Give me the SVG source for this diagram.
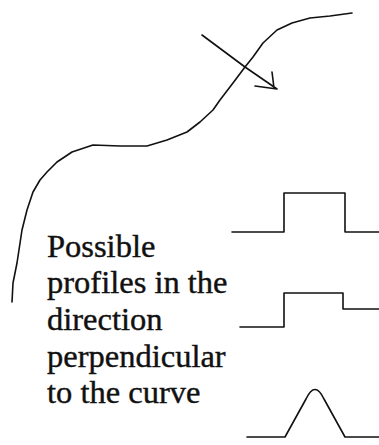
<svg xmlns="http://www.w3.org/2000/svg" width="379" height="445" viewBox="0 0 379 445">
<style>
.ln{fill:none;stroke:#111;stroke-width:1.6;stroke-linejoin:round;stroke-linecap:round}
.tx{font-family:"Liberation Serif","Times New Roman",serif;font-size:32.5px;fill:#111;stroke:#111;stroke-width:0.4}
</style>
<rect width="379" height="445" fill="#fff"/>
<g id="curve">
<polyline class="ln" points="352,13 330,16 310,18 292,23 277,30 263,43 253,57 245,67 233,83 220,100 213,110 200,122 187,132 167,140 147,146 120,146 93,145 72,152 57,162 47,172 40,180 33,192 27,210 22,230 17,263 13,283 12,302"/>
</g>
<g id="arrow">
<path class="ln" d="M202,35 L245,67 L277,89 M272,72 L274,88 M255,86 L277,89"/>
</g>
<g id="profile1">
<path class="ln" d="M232,232 H284 V193 H345 V232 H379"/>
</g>
<g id="profile2">
<path class="ln" d="M240,327 H284 V293 H343 V309 H379"/>
</g>
<g id="profile3">
<path class="ln" d="M247,437 H285 L306,399 Q315,380 324,399 L345,437 H379"/>
</g>
<g id="label">
<text class="tx" x="47" y="257">Possible</text>
<text class="tx" x="47" y="293">profiles in the</text>
<text class="tx" x="47" y="330">direction</text>
<text class="tx" x="47" y="367">perpendicular</text>
<text class="tx" x="47" y="403">to the curve</text>
</g>
</svg>
